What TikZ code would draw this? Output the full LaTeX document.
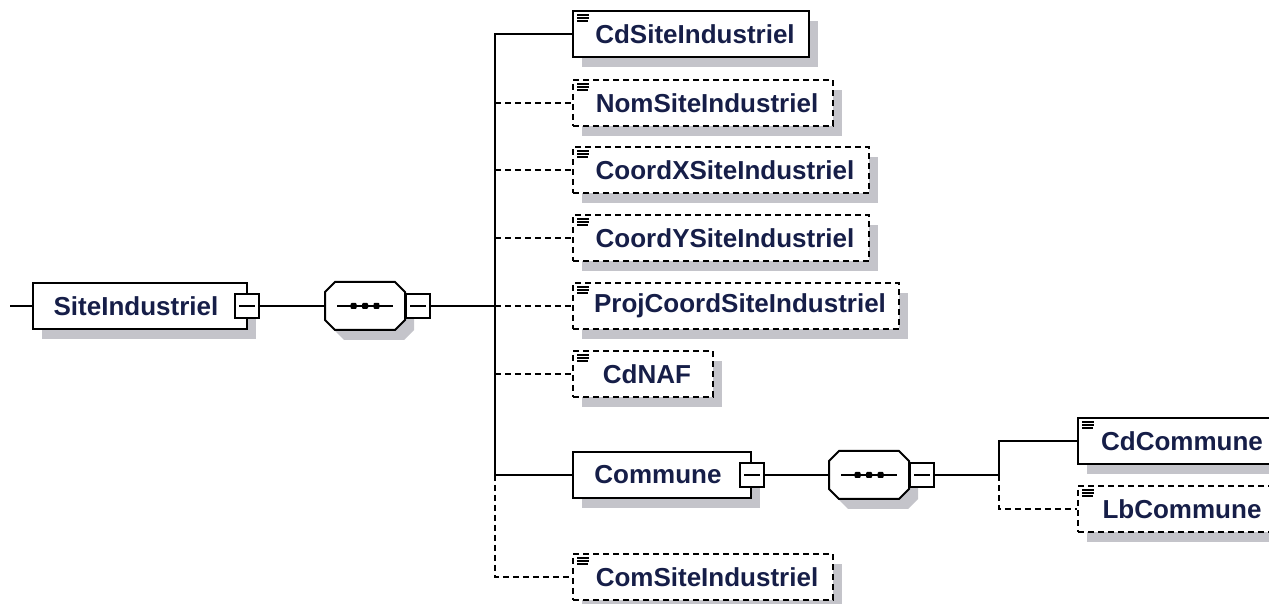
\documentclass[tikz,border=0pt]{standalone}
\usepackage{fontspec}
\setmainfont{Liberation Sans}
\usetikzlibrary{shadows}
\definecolor{namecol}{RGB}{22,30,72}
\definecolor{shadowcol}{RGB}{196,196,202}
\newcommand{\pxu}{0.02cm}
\tikzset{
	shade9/.style={drop shadow={shadow xshift=9*\pxu, shadow yshift=-10*\pxu, fill=shadowcol, opacity=1}},
	box/.style={draw, fill=white, minimum height=46*\pxu, inner sep=0pt, shade9,
		font=\fontsize{14.8}{16}\selectfont\bfseries, text=namecol},
	cplx/.style={box, minimum width=#1*\pxu, execute at end node=\hspace*{0.16cm}},
	elem/.style={box, minimum width=#1*\pxu, execute at begin node=\hspace*{0.16cm},
		path picture={
			\draw[solid, line width=0.025cm] ([xshift=0.08cm,yshift=-0.08cm]path picture bounding box.north west) -- ++(0.24cm,0);
			\draw[solid, line width=0.025cm] ([xshift=0.08cm,yshift=-0.14cm]path picture bounding box.north west) -- ++(0.24cm,0);
			\draw[solid, line width=0.025cm] ([xshift=0.08cm,yshift=-0.2cm]path picture bounding box.north west) -- ++(0.22cm,0);
		}},
	optelem/.style={elem=#1, optline},
	seqbox/.style={minimum width=78*\pxu, minimum height=46*\pxu, inner sep=0pt},
	octa/.style={fill=white, shade9},
	minusbox/.style={draw, fill=white, minimum size=24*\pxu, inner sep=0pt,
		path picture={
			\draw ([xshift=0.08cm]path picture bounding box.west) -- ([xshift=-0.08cm]path picture bounding box.east);
		}},
	optline/.style={dash pattern=on 0.12cm off 0.08cm}
}
% sequence compositor drawn round a named node
\newcommand{\seqmark}[1]{%
	\draw[octa] ([xshift=0.2cm]#1.north west) -- ([xshift=-0.2cm]#1.north east)
		-- ([yshift=-0.2cm]#1.north east) -- ([yshift=0.2cm]#1.south east)
		-- ([xshift=-0.2cm]#1.south east) -- ([xshift=0.2cm]#1.south west)
		-- ([yshift=0.2cm]#1.south west) -- ([yshift=-0.2cm]#1.north west) -- cycle;
	\draw ([xshift=-0.56cm]#1.center) -- ([xshift=0.56cm]#1.center);
	\fill[rounded corners=0.02cm] ([shift={(-0.29cm,-0.06cm)}]#1.center) rectangle ++(0.12cm,0.12cm);
	\fill[rounded corners=0.02cm] ([shift={(-0.06cm,-0.06cm)}]#1.center) rectangle ++(0.12cm,0.12cm);
	\fill[rounded corners=0.02cm] ([shift={(0.17cm,-0.06cm)}]#1.center) rectangle ++(0.12cm,0.12cm);
}
\begin{document}
\begin{tikzpicture}[x=0.02cm, y=-0.02cm, line width=0.04cm]
	\useasboundingbox (0,0) rectangle (1269,604);
	% root
	\coordinate (in) at (10,306);
	\node[cplx=214] (site) at (140,306) {SiteIndustriel};
	\node[minusbox] (siteM) at ([xshift=-1*\pxu]site.east) {};
	\node[seqbox] (seq1) at (365,306) {};
	\seqmark{seq1}
	\node[minusbox, anchor=west] (seq1M) at (seq1.east) {};
	\coordinate (b1) at (495,306);
	\draw (in) -- (site.west);
	\draw (siteM.east) -- (seq1.west);
	\draw (seq1M.east) -- (b1);
	%--
	\node[elem=236] (cd) at (691,34) {CdSiteIndustriel};
	\node[optelem=260] (nom) at (703,103) {NomSiteIndustriel};
	\node[optelem=296] (cx) at (721,170) {CoordXSiteIndustriel};
	\node[optelem=296] (cy) at (721,238) {CoordYSiteIndustriel};
	\node[optelem=326] (proj) at (736,306) {ProjCoordSiteIndustriel};
	\node[optelem=140] (naf) at (643,374) {CdNAF};
	\node[cplx=178] (com) at (662,475) {Commune};
	\node[minusbox] (comM) at (com.east) {};
	\node[optelem=260] (comsite) at (703,577) {ComSiteIndustriel};
	\draw (cd.west) -| (b1) |- (com.west);
	\draw[optline] (b1 |- nom.west) -- (nom.west);
	\draw[optline] (b1 |- cx.west) -- (cx.west);
	\draw[optline] (b1 |- cy.west) -- (cy.west);
	\draw[optline] (b1) -- (proj.west);
	\draw[optline] (b1 |- naf.west) -- (naf.west);
	\draw[optline] (b1 |- com.west) |- (comsite.west);
	%--
	\node[seqbox] (seq2) at (869,475) {};
	\seqmark{seq2}
	\node[minusbox, anchor=west] (seq2M) at (seq2.east) {};
	\coordinate (b2) at (999,475);
	\node[elem=200] (cdc) at (1178,441) {CdCommune};
	\node[optelem=200] (lbc) at (1178,509) {LbCommune};
	\draw (comM.east) -- (seq2.west);
	\draw (seq2M.east) -- (b2);
	\draw (b2) |- (cdc.west);
	\draw[optline] (b2) |- (lbc.west);
\end{tikzpicture}
\end{document}
